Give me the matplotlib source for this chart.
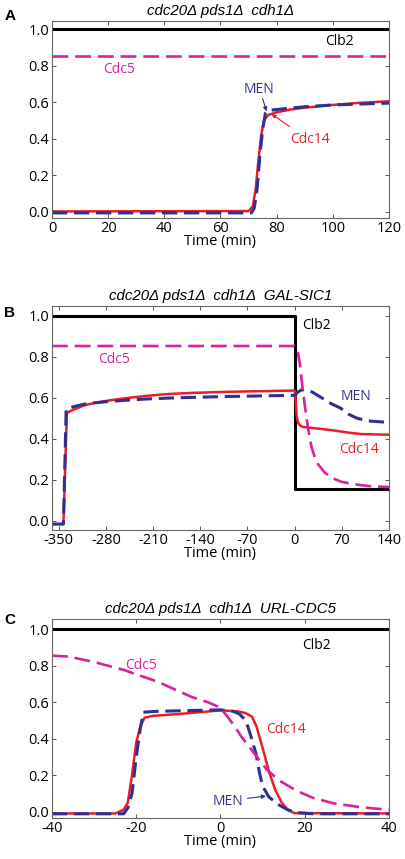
import matplotlib
matplotlib.use("Agg")
import matplotlib.pyplot as plt

plt.rcParams["axes.unicode_minus"] = False

# ---- colours
BLACK = "#000000"
MAGENTA = "#dc1f9a"
BLUE = "#2e3192"
RED = "#ec1c24"

# ---- panel A: cdc20D pds1D cdh1D
a_clb2_t = [0, 120]
a_clb2 = [1.0, 1.0]
a_cdc5_t = [0, 120]
a_cdc5 = [0.852, 0.852]
a_cdc14_t = [0, 70, 71.5, 72.5, 73.5, 74.5, 75.5, 77, 80, 85, 90, 100, 110, 120]
a_cdc14 = [0.003, 0.005, 0.03, 0.12, 0.28, 0.42, 0.50, 0.53, 0.545, 0.56, 0.57, 0.585, 0.597, 0.605]
a_men_t = [0, 71, 72, 73, 74, 75, 76, 77, 80, 90, 100, 110, 120]
a_men = [-0.005, -0.005, 0.02, 0.12, 0.30, 0.45, 0.54, 0.555, 0.56, 0.575, 0.585, 0.59, 0.595]

# ---- panel B: ... GAL-SIC1
b_clb2_t = [-360, 0, 0, 140]
b_clb2 = [1.0, 1.0, 0.155, 0.155]
b_cdc5_t = [-360, 0, 3, 5, 8, 11, 15, 20, 25, 30, 35, 45, 55, 70, 90, 110, 140]
b_cdc5 = [0.852, 0.852, 0.845, 0.82, 0.76, 0.67, 0.565, 0.45, 0.36, 0.31, 0.275, 0.235, 0.21, 0.19, 0.178, 0.17, 0.165]
b_cdc14_t = [-360, -343, -338, -330, -320, -310, -295, -275, -255, -240, -220, -200, -183, -150, -100,
             -50, 0, 1, 2, 3, 5, 8, 12, 20, 40, 60, 80, 100, 140]
b_cdc14 = [-0.015, -0.015, 0.525, 0.54, 0.553, 0.565, 0.576, 0.587, 0.596, 0.602, 0.609, 0.615, 0.619,
           0.624, 0.629, 0.632, 0.635, 0.62, 0.56, 0.51, 0.48, 0.465, 0.458, 0.455, 0.448, 0.44, 0.43,
           0.423, 0.42]
b_men_t = [-360, -343, -339, -330, -320, -310, -295, -275, -250, -220, -183, -140, -100, -50, 0, 5, 10,
           15, 25, 40, 55, 68, 80, 93, 110, 140]
b_men = [-0.015, -0.015, 0.545, 0.555, 0.563, 0.57, 0.576, 0.582, 0.588, 0.594, 0.599, 0.603, 0.606,
         0.609, 0.612, 0.628, 0.638, 0.64, 0.63, 0.60, 0.57, 0.55, 0.52, 0.50, 0.487, 0.48]

# ---- panel C: ... URL-CDC5
c_clb2_t = [-40, 40]
c_clb2 = [1.0, 1.0]
c_cdc5_t = [-40, -36, -30, -23, -15, -7, -3, 0, 3, 5, 8, 11, 14, 18, 22, 27, 33, 40]
c_cdc5 = [0.855, 0.85, 0.82, 0.777, 0.713, 0.63, 0.60, 0.57, 0.48, 0.41, 0.32, 0.23, 0.17, 0.115,
          0.075, 0.045, 0.025, 0.01]
c_cdc14_t = [-40, -25, -23, -22, -21, -20, -19, -18, -16, -10, -5, 0, 4, 6, 7.5, 8.5, 10, 11.5, 13,
             14.5, 16, 17.5, 40]
c_cdc14 = [-0.01, -0.01, 0.01, 0.05, 0.20, 0.38, 0.47, 0.515, 0.525, 0.535, 0.545, 0.555, 0.55, 0.54,
           0.52, 0.47, 0.35, 0.22, 0.12, 0.05, 0.01, -0.008, -0.01]
c_men_t = [-40, -23, -22, -21, -20, -19, -18.3, -15, 0, 3, 4.5, 6, 7, 8.4, 9.2, 10, 11.5, 14, 16, 18, 22, 40]
c_men = [-0.012, -0.012, 0.02, 0.10, 0.30, 0.46, 0.545, 0.55, 0.558, 0.55, 0.535, 0.50, 0.43, 0.32,
         0.22, 0.14, 0.08, 0.035, 0.01, -0.005, -0.012, -0.012]

y_ticks = [0.0, 0.2, 0.4, 0.6, 0.8, 1.0]

TXT = "Open Sans"
TITLE_FONT = "Liberation Sans"


def draw_panel(ax, clb2, cdc5, cdc14, men, xlim, ylim, xticks, title, letter, letter_y):
    ax.plot(clb2[0], clb2[1], color=BLACK, lw=2.2, solid_capstyle="butt")
    ax.plot(cdc14[0], cdc14[1], color=RED, lw=1.8)
    ax.plot(men[0], men[1], color=BLUE, lw=2.2, dashes=(5, 2.2))
    ax.plot(cdc5[0], cdc5[1], color=MAGENTA, lw=1.9, dashes=(6, 2.6))
    ax.set_xlim(*xlim)
    ax.set_ylim(*ylim)
    ax.set_xticks(xticks)
    ax.set_yticks(y_ticks)
    ax.set_yticklabels(["%.1f" % v for v in y_ticks])
    ax.tick_params(direction="in", top=True, right=True, length=3, width=0.7,
                   color="#555555", labelsize=10.5, pad=2)
    for lab in ax.get_xticklabels() + ax.get_yticklabels():
        lab.set_fontfamily(TXT)
    for s in ax.spines.values():
        s.set_color("#666666")
        s.set_linewidth(0.8)
    ax.set_xlabel("Time (min)", fontsize=10.5, family=TXT, labelpad=-1)
    ax.set_title(title, fontsize=10.8, family=TITLE_FONT, style="italic", pad=4)
    ax.text(-0.125, letter_y, letter, transform=ax.transAxes, fontsize=11, fontweight="bold",
            family="Liberation Sans", ha="center", va="center")


fig = plt.figure(figsize=(4.05, 8.59), dpi=100)
axA = fig.add_axes([0.1284, 0.7462, 0.832, 0.2294])
axB = fig.add_axes([0.1284, 0.3830, 0.832, 0.2608])
axC = fig.add_axes([0.1284, 0.0477, 0.832, 0.2317])

draw_panel(axA, (a_clb2_t, a_clb2), (a_cdc5_t, a_cdc5), (a_cdc14_t, a_cdc14), (a_men_t, a_men),
           (0, 120), (-0.033, 1.044), [0, 20, 40, 60, 80, 100, 120],
           "cdc20Δ pds1Δ  cdh1Δ", "A", 1.025)
draw_panel(axB, (b_clb2_t, b_clb2), (b_cdc5_t, b_cdc5), (b_cdc14_t, b_cdc14), (b_men_t, b_men),
           (-360, 140), (-0.044, 1.047), [-350, -280, -210, -140, -70, 0, 70, 140],
           "cdc20Δ pds1Δ  cdh1Δ  GAL-SIC1", "B", 0.97)
draw_panel(axC, (c_clb2_t, c_clb2), (c_cdc5_t, c_cdc5), (c_cdc14_t, c_cdc14), (c_men_t, c_men),
           (-40, 40), (-0.035, 1.056), [-40, -20, 0, 20, 40],
           "cdc20Δ pds1Δ  cdh1Δ  URL-CDC5", "C", 0.995)

lab = dict(fontsize=10, family=TXT, ha="center", va="center")
arr = dict(arrowstyle="-|>", lw=0.8, mutation_scale=6, shrinkA=0, shrinkB=0)

# panel A labels
axA.text(102.5, 0.93, "Clb2", color=BLACK, **lab)
axA.text(23.8, 0.776, "Cdc5", color=MAGENTA, **lab)
axA.text(73.8, 0.67, "MEN", color=BLUE, **lab)
axA.annotate("", xy=(76.4, 0.55), xytext=(75.0, 0.62), arrowprops=dict(color=BLUE, **arr))
axA.text(91.8, 0.397, "Cdc14", color=RED, **lab)
axA.annotate("", xy=(78.2, 0.535), xytext=(84.7, 0.466), arrowprops=dict(color=RED, **arr))

# panel B labels
axB.text(32, 0.95, "Clb2", color=BLACK, **lab)
axB.text(-268, 0.785, "Cdc5", color=MAGENTA, **lab)
axB.text(91, 0.606, "MEN", color=BLUE, **lab)
axB.text(96, 0.346, "Cdc14", color=RED, **lab)

# panel C labels
axC.text(22.7, 0.91, "Clb2", color=BLACK, **lab)
axC.text(-18.8, 0.80, "Cdc5", color=MAGENTA, **lab)
axC.text(15.5, 0.45, "Cdc14", color=RED, **lab)
axC.text(1.7, 0.055, "MEN", color=BLUE, **lab)
axC.annotate("", xy=(10.8, 0.085), xytext=(6.4, 0.073), arrowprops=dict(color=BLUE, **arr))

fig.savefig("out.png", dpi=100)
